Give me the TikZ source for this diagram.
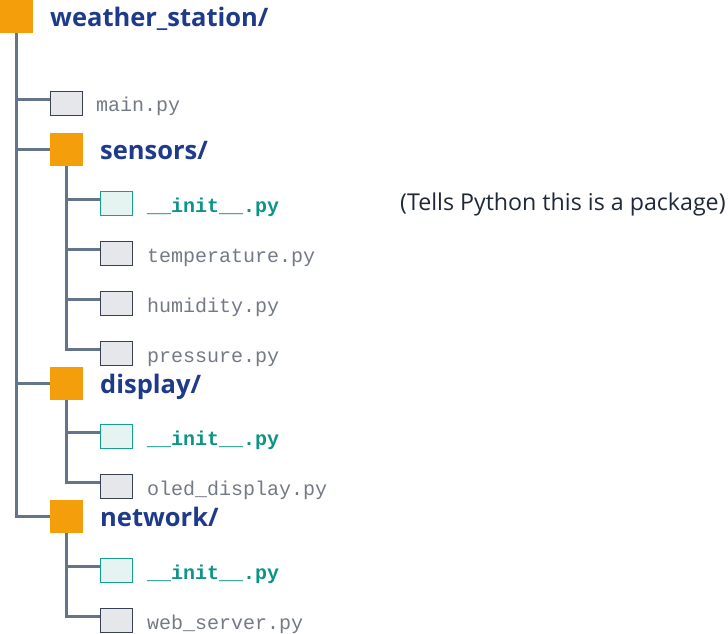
\documentclass[tikz,border=0pt]{standalone}
\usepackage{fontspec}
\setmainfont{Open Sans}
\newfontfamily\monof{Liberation Mono}
\definecolor{folderc}{HTML}{F59E0B}
\definecolor{navy}{HTML}{1E3A8A}
\definecolor{linec}{HTML}{64748B}
\definecolor{filestroke}{HTML}{374151}
\definecolor{filefill}{HTML}{E5E7EB}
\definecolor{tealstroke}{HTML}{14A08C}
\definecolor{tealfill}{HTML}{E6F4F1}
\definecolor{tealtext}{HTML}{0D9488}
\definecolor{filetext}{HTML}{737985}
\definecolor{commc}{HTML}{1F2937}
\tikzset{
  folder/.style={fill=folderc, draw=none, minimum width=33pt, minimum height=33pt, inner sep=0pt},
  filebox/.style={fill=filefill, draw=filestroke, line width=1.5pt, minimum width=32pt, minimum height=24pt, inner sep=0pt},
  initbox/.style={fill=tealfill, draw=tealstroke, line width=1.5pt, minimum width=32pt, minimum height=24pt, inner sep=0pt},
  conn/.style={draw=linec, line width=2.5pt},
  foldertext/.style={anchor=base west, inner sep=0pt, text=navy, font=\fontsize{25.5}{28}\selectfont\bfseries},
  filetxt/.style={anchor=base west, inner sep=0pt, text=filetext, font=\monof\fontsize{20}{22}\selectfont},
  inittxt/.style={anchor=base west, inner sep=0pt, text=tealtext, font=\monof\fontsize{20}{22}\selectfont\bfseries},
  commtxt/.style={anchor=base west, inner sep=0pt, text=commc, font=\fontsize{23.2}{26}\selectfont},
}
\begin{document}
\begin{tikzpicture}[x=1pt,y=-1pt]
\useasboundingbox (0,0) rectangle (728,634);
% root
\node[folder] (root) at (16.5,16.5) {};
\node[foldertext] (rootl) at (50,27) {weather\_station/};
% level 1
\node[filebox] (main) at (66.5,103.5) {};
\node[filetxt] (mainl) at (96,111) {main.py};
\node[folder] (sensors) at (66.5,149.5) {};
\node[foldertext] (sensorsl) at (100,159) {sensors/};
\node[folder] (display) at (66.5,383.5) {};
\node[foldertext] (displayl) at (100,393) {display/};
\node[folder] (network) at (66.5,516.5) {};
\node[foldertext] (networkl) at (100,526) {network/};
% sensors children
\node[initbox] (sinit) at (116.5,203.5) {};
\node[inittxt] (sinitl) at (147,212) {\_\_init\_\_.py};
\node[filebox] (temp) at (116.5,253.5) {};
\node[filetxt] (templ) at (147,262) {temperature.py};
\node[filebox] (hum) at (116.5,303.5) {};
\node[filetxt] (huml) at (147,312) {humidity.py};
\node[filebox] (pres) at (116.5,353.5) {};
\node[filetxt] (presl) at (147,362) {pressure.py};
\node[commtxt] (comment) at (400,210.5) {(Tells Python this is a package)};
% display children
\node[initbox] (dinit) at (116.5,436.5) {};
\node[inittxt] (dinitl) at (147,445) {\_\_init\_\_.py};
\node[filebox] (oled) at (116.5,486.5) {};
\node[filetxt] (oledl) at (147,495) {oled\_display.py};
% network children
\node[initbox] (ninit) at (116.5,570.5) {};
\node[inittxt] (ninitl) at (147,579) {\_\_init\_\_.py};
\node[filebox] (web) at (116.5,620.5) {};
\node[filetxt] (webl) at (147,629) {web\_server.py};
% connectors
\draw[conn] (root.south) |- (network.west);
\draw[conn] ([yshift=4pt]main.west) -| (root.south);
\draw[conn] (sensors.west) -| (root.south);
\draw[conn] (display.west) -| (root.south);
\draw[conn] (sensors.south) |- ([yshift=4pt]pres.west);
\draw[conn] ([yshift=4pt]sinit.west) -| (sensors.south);
\draw[conn] ([yshift=4pt]temp.west) -| (sensors.south);
\draw[conn] ([yshift=4pt]hum.west) -| (sensors.south);
\draw[conn] (display.south) |- ([yshift=4pt]oled.west);
\draw[conn] ([yshift=4pt]dinit.west) -| (display.south);
\draw[conn] (network.south) |- ([yshift=4pt]web.west);
\draw[conn] ([yshift=4pt]ninit.west) -| (network.south);
\end{tikzpicture}
\end{document}
